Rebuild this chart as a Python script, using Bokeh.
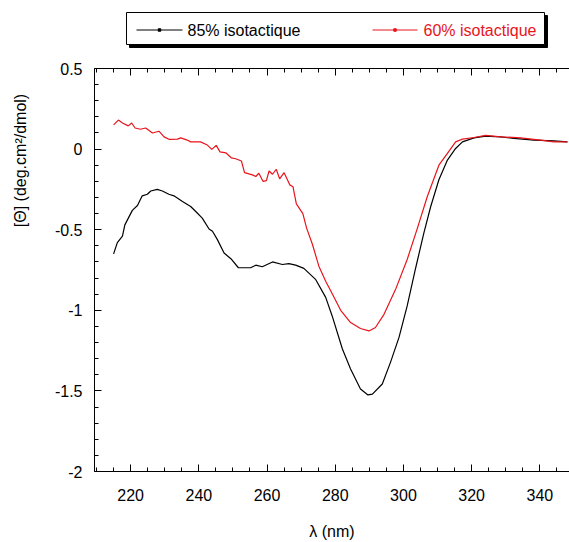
import math
from bokeh.plotting import figure
from bokeh.models import Range1d, LinearAxis, FixedTicker
from bokeh.layouts import column, row
from bokeh.embed import file_html
from bokeh.resources import INLINE
from bokeh.core.properties import value

FONT = "Liberation Sans"

# ---- data ----
wl_85 = [215, 216.1, 217.6, 218.3, 220.5, 222.0, 223.4, 224.9, 225.9, 227.8,
         229.3, 231.2, 232.7, 235.2, 237.6, 239.1, 241.0, 243.0, 244.0, 245.4,
         247.4, 249.4, 251.6, 255.2, 256.7, 258.6, 261.6, 264.5, 266.4, 268.4,
         270.8, 274.3, 277.2, 279.1, 282.1, 284.5, 287.4, 289.6, 290.9, 293.8,
         296.2, 298.7, 301.1, 303.6, 306.0, 308.0, 310.4, 312.9, 315.3, 317.3,
         320.7, 324.1, 328.5, 332.4, 338.3, 344.1, 348.1]
theta_85 = [-0.65, -0.58, -0.54, -0.47, -0.38, -0.35, -0.29, -0.28, -0.26, -0.25,
            -0.26, -0.28, -0.29, -0.325, -0.356, -0.387, -0.428, -0.496, -0.51, -0.56,
            -0.645, -0.68, -0.736, -0.736, -0.72, -0.73, -0.70, -0.716, -0.71, -0.72,
            -0.74, -0.81, -0.92, -1.035, -1.24, -1.364, -1.488, -1.525, -1.52, -1.457,
            -1.323, -1.168, -0.973, -0.736, -0.52, -0.356, -0.19, -0.068, 0.004, 0.045,
            0.07, 0.08, 0.076, 0.066, 0.056, 0.051, 0.045]

wl_60 = [215, 216.4, 217.6, 219.3, 220.3, 221.3, 222.9, 224.4, 226.4, 228.3,
         229.8, 231.4, 233.7, 234.7, 236.6, 237.6, 240.5, 242.5, 243.8, 245.1,
         246.2, 247.9, 249.5, 250.8, 252.5, 253.4, 255.7, 256.7, 257.6, 258.8,
         259.8, 260.6, 261.6, 262.7, 263.7, 265.0, 266.7, 267.6, 268.6, 270.5,
         271.6, 273.3, 275.2, 277.2, 278.7, 281.6, 284.5, 287.4, 289.9, 291.8,
         294.3, 297.7, 301.1, 304.1, 307.0, 310.4, 312.9, 315.3, 317.3, 320.7,
         324.1, 328.5, 334.4, 340.2, 344.1, 348.1]
theta_60 = [0.15, 0.18, 0.162, 0.144, 0.162, 0.131, 0.123, 0.131, 0.10, 0.111,
            0.076, 0.06, 0.062, 0.07, 0.056, 0.045, 0.045, 0.025, -0.002, 0.023,
            -0.017, -0.023, -0.054, -0.06, -0.074, -0.146, -0.16, -0.17, -0.15, -0.2,
            -0.196, -0.136, -0.156, -0.125, -0.185, -0.146, -0.222, -0.233, -0.34, -0.40,
            -0.49, -0.59, -0.726, -0.82, -0.88, -1.00, -1.076, -1.113, -1.128, -1.107,
            -1.025, -0.87, -0.685, -0.49, -0.294, -0.1, -0.027, 0.045, 0.062, 0.072,
            0.085, 0.076, 0.07, 0.056, 0.045, 0.045]

series_names = ["85% isotactique", "60% isotactique"]
series_colors = ["black", "#e8141b"]

x_major = [220, 240, 260, 280, 300, 320, 340]
x_minor = [210 + 5 * i for i in range(29)]
y_major = [-2, -1.5, -1, -0.5, 0, 0.5]
y_major_labels = ["-2", "-1.5", "-1", "-0.5", "0", "0.5"]
y_minor = [round(-2 + 0.1 * i, 1) for i in range(26)]
y_title = "[Θ] (deg.cm²/dmol)"
x_title = "λ (nm)"

# page geometry
PW, PH = 569, 542
TW = 35            # width of the strip holding the y title
LH = 60            # height of the legend strip
FL, FT, FB = 94, 68, 473   # frame left / top / bottom on the page
FS = "16px"


def bare(fig):
    fig.grid.visible = False
    fig.outline_line_color = None
    return fig


# ---- y-title strip (page coordinates) ----
tfig = bare(figure(width=TW, height=PH, x_range=Range1d(0, TW), y_range=Range1d(PH, 0),
                   toolbar_location=None, output_backend="svg",
                   x_axis_location=None, y_axis_location=None, min_border=0))
tfig.text(x=[20], y=[160], text=[y_title], angle=math.pi / 2, text_align="center",
          text_baseline="middle", text_font=value(FONT), text_font_size=FS, text_color="black")

# ---- legend strip (page coordinates) ----
lfig = bare(figure(width=PW - TW, height=LH, x_range=Range1d(FL, PW), y_range=Range1d(LH, 0),
                   toolbar_location=None, output_backend="svg",
                   x_axis_location=None, y_axis_location=None,
                   min_border_left=FL - TW, min_border_right=0, min_border_top=0, min_border_bottom=0))
lfig.quad(left=[129], right=[547], top=[15], bottom=[47], fill_color="black", line_color="black")
lfig.quad(left=[126], right=[544], top=[12], bottom=[44], fill_color="white", line_color="black", line_width=1)
leg_line_x = [(136, 182), (372, 417)]
leg_text_x = [187, 423]
for (x0, x1), tx, name, col in zip(leg_line_x, leg_text_x, series_names, series_colors):
    lfig.line([x0, x1], [29.5, 29.5], line_color=col, line_width=1)
    lfig.scatter([(x0 + x1) / 2], [29.5], size=2.5, marker="square", fill_color=col, line_color=col)
    lfig.text(x=[tx], y=[29.5], text=[name], text_align="left", text_baseline="middle",
              text_font=value(FONT), text_font_size=FS, text_color=col)

# ---- main plot ----
MH = PH - LH
p = bare(figure(width=PW - TW, height=MH, x_range=Range1d(209.4, 348.7), y_range=Range1d(-2, 0.5),
                toolbar_location=None, output_backend="svg",
                x_axis_location=None, y_axis_location=None,
                min_border_left=FL - TW, min_border_right=0,
                min_border_top=FT - LH, min_border_bottom=PH - FB))

p.line(wl_85, theta_85, line_color=series_colors[0], line_width=1.2)
p.line(wl_60, theta_60, line_color=series_colors[1], line_width=1.2)

xb = LinearAxis(ticker=FixedTicker(ticks=x_major, minor_ticks=x_minor))
xt = LinearAxis(ticker=FixedTicker(ticks=x_major, minor_ticks=x_minor))
yl = LinearAxis(ticker=FixedTicker(ticks=y_major, minor_ticks=y_minor))
p.add_layout(xb, "below")
p.add_layout(xt, "above")
p.add_layout(yl, "left")

yl.major_label_overrides = {v: s for v, s in zip(y_major, y_major_labels)}
xt.major_label_overrides = {v: "" for v in x_major}
xt.major_label_text_color = None
xt.major_label_standoff = 0

for ax in [xb, xt, yl]:
    ax.major_tick_in = 7
    ax.major_tick_out = 0
    ax.minor_tick_in = 4
    ax.minor_tick_out = 0
    ax.axis_line_color = "black"
    ax.major_tick_line_color = "black"
    ax.minor_tick_line_color = "black"

for ax in [xb, yl]:
    ax.major_label_text_font = FONT
    ax.major_label_text_font_size = FS
    ax.major_label_text_color = "black"

xb.axis_label = x_title
xb.axis_label_text_font = FONT
xb.axis_label_text_font_size = FS
xb.axis_label_text_font_style = "normal"
xb.axis_label_text_color = "black"
xb.major_label_standoff = 17
xb.axis_label_standoff = 19
yl.major_label_standoff = 12

layout = row(tfig, column(lfig, p, spacing=0), spacing=0)
open("out.html", "w").write(file_html(layout, INLINE))
